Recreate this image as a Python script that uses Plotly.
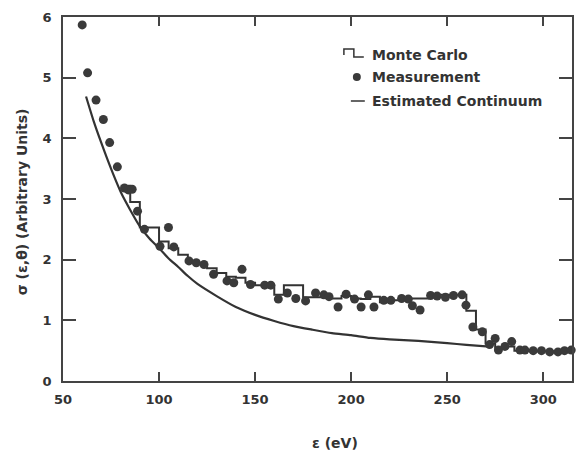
import plotly.graph_objects as go

# Measurement points (energy eV, sigma)
meas_x = [60.0, 62.8, 67.2, 71.0, 74.3, 78.3, 82.0, 84.0, 86.0, 88.8, 92.4, 100.5, 104.9, 107.7,
          115.6, 119.4, 123.4, 128.4, 135.4, 138.9, 143.2, 147.6, 155.0, 158.2, 162.1, 166.8,
          171.2, 176.3, 181.5, 185.8, 188.5, 193.2, 197.4, 201.8, 205.2, 209.0, 211.9, 217.0,
          220.7, 226.3, 229.8, 231.9, 235.9, 241.4, 244.8, 249.1, 253.3, 257.8, 259.8, 263.4,
          268.3, 272.1, 275.0, 276.7, 280.1, 283.6, 287.9, 290.5, 294.8, 299.1, 303.4, 307.7,
          311.1, 314.6]
meas_y = [5.87, 5.08, 4.63, 4.31, 3.93, 3.53, 3.18, 3.15, 3.16, 2.80, 2.50, 2.22, 2.53, 2.21,
          1.98, 1.95, 1.92, 1.76, 1.65, 1.62, 1.84, 1.59, 1.58, 1.58, 1.35, 1.45,
          1.36, 1.32, 1.45, 1.42, 1.39, 1.22, 1.43, 1.35, 1.22, 1.42, 1.22, 1.33,
          1.33, 1.36, 1.35, 1.24, 1.17, 1.41, 1.40, 1.38, 1.41, 1.42, 1.25, 0.89,
          0.81, 0.60, 0.70, 0.51, 0.57, 0.65, 0.51, 0.51, 0.50, 0.50, 0.48, 0.48,
          0.50, 0.51]

# Monte Carlo histogram (bin left edges, values)
mc_edges = [80, 85, 90, 95, 100, 105, 110, 115, 120, 125, 130, 135, 140, 145, 150, 155, 160,
            165, 170, 175, 180, 185, 190, 195, 200, 205, 210, 215, 220, 225, 230, 235, 240,
            245, 250, 255, 260, 265, 270, 275, 280, 285, 290, 295, 300, 305, 310, 315]
mc_values = [3.22, 2.95, 2.53, 2.53, 2.30, 2.19, 2.08, 1.98, 1.93, 1.86, 1.78, 1.72, 1.70,
             1.62, 1.58, 1.58, 1.42, 1.58, 1.58, 1.38, 1.38, 1.40, 1.36, 1.40, 1.36, 1.35,
             1.39, 1.30, 1.33, 1.35, 1.36, 1.36, 1.43, 1.42, 1.42, 1.42, 1.16, 0.85, 0.62,
             0.55, 0.57, 0.50, 0.50, 0.49, 0.49, 0.49, 0.49]

# Estimated continuum
cont_x = [62, 66, 70, 75, 80, 85, 90, 95, 100, 105, 110, 115, 120, 130, 140, 150, 160, 170,
          180, 190, 200, 210, 220, 230, 240, 250, 260, 272]
cont_y = [4.69, 4.28, 3.92, 3.50, 3.12, 2.82, 2.55, 2.35, 2.19, 2.02, 1.88, 1.73, 1.60, 1.40,
          1.22, 1.09, 0.99, 0.905, 0.845, 0.79, 0.755, 0.71, 0.685, 0.67, 0.65, 0.625, 0.595,
          0.565]

x_ticks = [50, 100, 150, 200, 250, 300]
y_ticks = [0, 1, 2, 3, 4, 5, 6]

INK = "#333333"
FONT = "DejaVu Sans, Liberation Sans, sans-serif"

W, H = 576, 453
L, R, T, B = 63, 2, 17, 72
PW, PH = W - L - R, H - T - B

def px(xp):
    return (xp - L) / PW

def py(yp):
    return (H - B - yp) / PH

fig = go.Figure()
fig.add_trace(go.Scatter(x=cont_x, y=cont_y, mode="lines",
                         line=dict(color=INK, width=2.2, shape="spline", smoothing=0.6),
                         showlegend=False, hoverinfo="skip"))
fig.add_trace(go.Scatter(x=mc_edges, y=mc_values + [mc_values[-1]], mode="lines",
                         line=dict(color=INK, width=2, shape="hv"),
                         showlegend=False, hoverinfo="skip"))
fig.add_trace(go.Scatter(x=meas_x, y=meas_y, mode="markers",
                         marker=dict(color="#3a3a3a", size=9, line=dict(width=0)),
                         showlegend=False, hoverinfo="skip", cliponaxis=False))

axis_common = dict(showgrid=False, zeroline=False, showline=True, linecolor="#444444",
                   linewidth=1.5, mirror="ticks", ticks="inside", tickcolor="#444444",
                   tickwidth=1.5,
                   tickfont=dict(family=FONT, size=13, color=INK, weight="bold"))

fig.update_xaxes(range=[50, 315], tickvals=x_ticks, ticktext=[str(v) for v in x_ticks],
                 ticklen=9, ticklabelstandoff=6, **axis_common)
fig.update_yaxes(range=[0, 6], tickvals=y_ticks, ticktext=[str(v) for v in y_ticks],
                 ticklen=13, ticklabelstandoff=7, **axis_common)

annotations = [
    dict(text="\u03c3 (\u03b5,\u03b8) (Arbitrary Units)", x=px(22), y=py(202), xref="paper",
         yref="paper", textangle=-90, showarrow=False, xanchor="center", yanchor="middle",
         font=dict(family=FONT, size=14, color=INK, weight="bold")),
    dict(text="\u03b5 (eV)", x=px(336), y=py(443), xref="paper", yref="paper",
         showarrow=False, xanchor="center", yanchor="middle",
         font=dict(family=FONT, size=14, color=INK, weight="bold")),
]
legend_labels = ["Monte Carlo", "Measurement", "Estimated Continuum"]
legend_rows = [55, 77, 101]
for lab, yy in zip(legend_labels, legend_rows):
    annotations.append(dict(text=lab, x=px(371), y=py(yy), xref="paper", yref="paper",
                            showarrow=False, xanchor="left", yanchor="middle",
                            font=dict(family=FONT, size=14, color=INK, weight="bold")))

shapes = [
    dict(type="path", xref="paper", yref="paper",
         path=f"M {px(345)},{py(55)} L {px(345)},{py(49)} L {px(355)},{py(49)} "
              f"L {px(355)},{py(57)} L {px(365)},{py(57)}",
         line=dict(color=INK, width=1.5)),
    dict(type="circle", xref="paper", yref="paper", x0=px(354), x1=px(362), y0=py(81),
         y1=py(73), fillcolor="#3a3a3a", line=dict(width=0)),
    dict(type="line", xref="paper", yref="paper", x0=px(352), x1=px(366), y0=py(101),
         y1=py(101), line=dict(color=INK, width=1.5)),
]

fig.update_layout(width=W, height=H, margin=dict(l=L, r=R, t=T, b=B),
                  paper_bgcolor="white", plot_bgcolor="white",
                  annotations=annotations, shapes=shapes, showlegend=False)

fig.write_html("out.html", config={"displayModeBar": False},
               post_script="document.body.style.margin='0';")
